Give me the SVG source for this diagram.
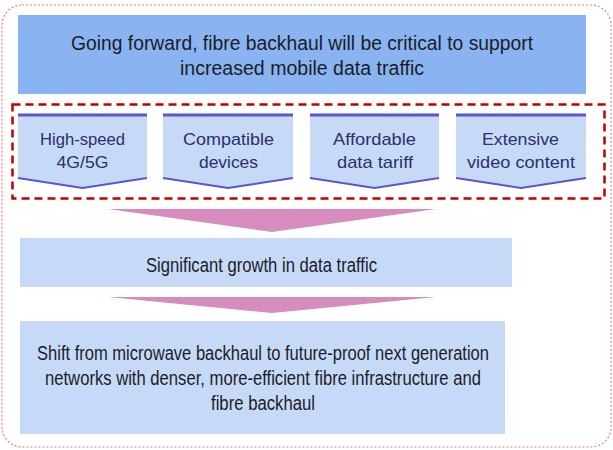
<svg xmlns="http://www.w3.org/2000/svg" width="613" height="450" viewBox="0 0 613 450">
<style>
.t{font-family:"Liberation Sans",Arial,sans-serif;fill:#1c1c28;text-anchor:middle;font-size:19.5px}
.c{font-family:"Liberation Sans",Arial,sans-serif;fill:#2e2e6a;text-anchor:middle;font-size:17px}
.chev{fill:#c6daf7}
.bar{stroke:#5a55d0;stroke-width:3}
.bot{fill:none;stroke:#5a55d0;stroke-width:2}
.pink{fill:#d68cbd}
.box{fill:#c6daf7}
</style>
<rect x="2" y="5" width="609" height="442" rx="20" fill="none" stroke="#f07a7a" stroke-width="1.2" stroke-dasharray="2,2"/>
<g id="top">
<rect x="18" y="15" width="568" height="79" fill="#8ab4f1"/>
<text class="t" x="302" y="50" textLength="462" lengthAdjust="spacingAndGlyphs">Going forward, fibre backhaul will be critical to support</text>
<text class="t" x="302" y="75" textLength="244" lengthAdjust="spacingAndGlyphs">increased mobile data traffic</text>
</g>
<g id="factors-frame">
<rect x="12.5" y="104.5" width="592" height="94" fill="none" stroke="#c00000" stroke-width="2.5" stroke-dasharray="8,5"/>
</g>
<g id="chev1">
<path class="chev" d="M18,115 H147 V178 L82.5,188 L18,178 Z"/>
<line class="bar" x1="18" y1="115" x2="147" y2="115"/>
<path class="bot" d="M18,178 L82.5,188 L147,178"/>
<text class="c" x="82.5" y="145" textLength="85" lengthAdjust="spacingAndGlyphs">High-speed</text>
<text class="c" x="82.5" y="168" textLength="52" lengthAdjust="spacingAndGlyphs">4G/5G</text>
</g>
<g id="chev2">
<path class="chev" d="M163,115 H293 V178 L228,188 L163,178 Z"/>
<line class="bar" x1="163" y1="115" x2="293" y2="115"/>
<path class="bot" d="M163,178 L228,188 L293,178"/>
<text class="c" x="228.5" y="145" textLength="91" lengthAdjust="spacingAndGlyphs">Compatible</text>
<text class="c" x="228.5" y="168" textLength="59" lengthAdjust="spacingAndGlyphs">devices</text>
</g>
<g id="chev3">
<path class="chev" d="M310,115 H439 V178 L374.5,188 L310,178 Z"/>
<line class="bar" x1="310" y1="115" x2="439" y2="115"/>
<path class="bot" d="M310,178 L374.5,188 L439,178"/>
<text class="c" x="374.5" y="145" textLength="83" lengthAdjust="spacingAndGlyphs">Affordable</text>
<text class="c" x="375" y="168" textLength="76" lengthAdjust="spacingAndGlyphs">data tariff</text>
</g>
<g id="chev4">
<path class="chev" d="M456,115 H586 V178 L521,188 L456,178 Z"/>
<line class="bar" x1="456" y1="115" x2="586" y2="115"/>
<path class="bot" d="M456,178 L521,188 L586,178"/>
<text class="c" x="520.5" y="145" textLength="77" lengthAdjust="spacingAndGlyphs">Extensive</text>
<text class="c" x="521" y="168" textLength="108" lengthAdjust="spacingAndGlyphs">video content</text>
</g>
<g id="connectors">
<path class="pink" d="M108,209 H436 L272,232 Z"/>
<path class="pink" d="M108,297 H436 L272,313 Z"/>
</g>
<g id="growth">
<rect class="box" x="20" y="238" width="492" height="49"/>
<text class="t" x="261.5" y="272" textLength="231" lengthAdjust="spacingAndGlyphs">Significant growth in data traffic</text>
</g>
<g id="shift">
<rect class="box" x="20" y="321" width="485" height="113"/>
<text class="t" x="263" y="360" textLength="452" lengthAdjust="spacingAndGlyphs">Shift from microwave backhaul to future-proof next generation</text>
<text class="t" x="263" y="385" textLength="436" lengthAdjust="spacingAndGlyphs">networks with denser, more-efficient fibre infrastructure and</text>
<text class="t" x="263" y="410" textLength="104" lengthAdjust="spacingAndGlyphs">fibre backhaul</text>
</g>
</svg>
